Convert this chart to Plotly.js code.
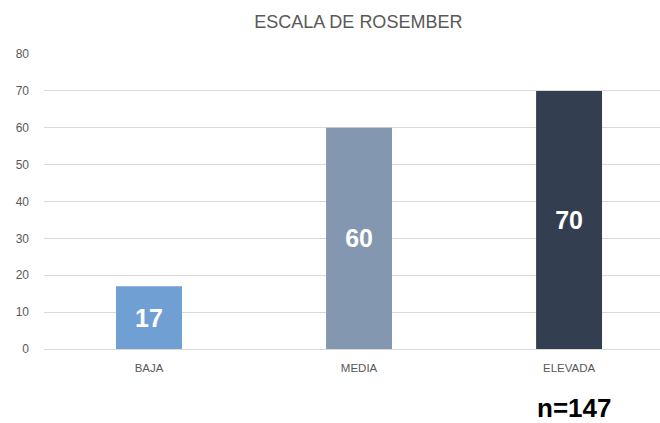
<!DOCTYPE html>
<html>
<head>
<meta charset="utf-8">
<script src="https://cdn.plot.ly/plotly-3.0.1.min.js"></script>
<style>html,body{margin:0;padding:0;background:#fff;}#chart{width:660px;height:423px;}</style>
</head>
<body>
<div id="chart"></div>
<script>
const categories = ["BAJA", "MEDIA", "ELEVADA"];
const values = [17, 60, 70];
const barColors = ["#709FD3", "#8497B0", "#333F50"];
const yTicks = [0, 10, 20, 30, 40, 50, 60, 70, 80];
const chartTitle = "ESCALA DE ROSEMBER";
const sampleNote = "n=147";

const trace = {
  type: "bar",
  x: categories,
  y: values,
  marker: {color: barColors},
  text: values.map(String),
  textposition: "inside",
  insidetextanchor: "middle",
  textangle: 0,
  textfont: {family: "Liberation Sans, Arial, sans-serif", size: 25, color: "#ffffff", weight: "bold"},
  hoverinfo: "none"
};

const layout = {
  width: 660,
  height: 423,
  margin: {l: 44, r: 0, t: 54, b: 74},
  paper_bgcolor: "#ffffff",
  plot_bgcolor: "#ffffff",
  showlegend: false,
  bargap: 0.686,
  title: {
    text: chartTitle,
    x: 0.543, xanchor: "center",
    y: 0.948, yanchor: "middle",
    font: {family: "Liberation Sans, Arial, sans-serif", size: 18, color: "#595959"}
  },
  xaxis: {
    type: "category",
    range: [-0.5, 2.433],
    showgrid: false,
    showline: false,
    zeroline: false,
    ticks: "",
    tickfont: {family: "Liberation Sans, Arial, sans-serif", size: 11.5, color: "#595959"},
    ticklabelstandoff: 10
  },
  yaxis: {
    range: [0, 80],
    tickvals: yTicks,
    ticktext: yTicks.map(String),
    showgrid: true,
    gridcolor: "#d9d9d9",
    gridwidth: 1,
    zeroline: true,
    zerolinecolor: "#d9d9d9",
    zerolinewidth: 1,
    showline: false,
    ticks: "",
    tickfont: {family: "Liberation Sans, Arial, sans-serif", size: 12, color: "#595959"},
    ticklabelstandoff: 14
  },
  annotations: [{
    text: sampleNote,
    xref: "paper", yref: "paper",
    x: 0.861, y: -0.2,
    xanchor: "center", yanchor: "middle",
    showarrow: false,
    font: {family: "Liberation Sans, Arial, sans-serif", size: 26, color: "#000000", weight: "bold"}
  }]
};

Plotly.newPlot("chart", [trace], layout, {displayModeBar: false, staticPlot: true});
</script>
</body>
</html>
